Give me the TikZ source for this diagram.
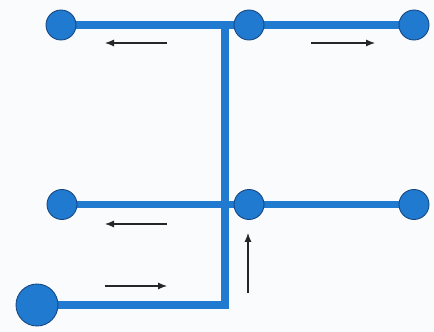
\documentclass[tikz,border=0pt]{standalone}
\usepackage{tikz}
\usetikzlibrary{arrows.meta}
\definecolor{pipeblue}{RGB}{32,122,208}
\definecolor{pipeedge}{RGB}{22,70,130}
\definecolor{paper}{RGB}{250,251,252}

\begin{document}
\begin{tikzpicture}[
    joint/.style={circle,fill=pipeblue,draw=pipeedge,line width=0.5pt,minimum size=0.6cm,inner sep=0pt},
    source/.style={joint,minimum size=0.84cm},
    pipe/.style={pipeblue,line width=4pt},
    flow/.style={-{Latex[length=1.8mm,width=1.4mm]},black!85,line width=0.6pt}
  ]
      \fill[paper] (0,0) rectangle (8.68,6.64);
      \useasboundingbox (0,0) rectangle (8.68,6.64);
      % junctions of the trunk
      \coordinate (ttop) at (4.5,6.14);
      \coordinate (tmid) at (4.5,2.55);
      \coordinate (tbot) at (4.5,0.54);
      % pipes
      \draw[pipe] (1.22,6.14) coordinate (tlend) -- (8.28,6.14) coordinate (trend);
      \draw[pipe] (1.24,2.55) coordinate (mlend) -- (8.28,2.55) coordinate (mrend);
      \draw[pipe,line join=miter] (0.74,0.54) coordinate (blend) -- (tbot) -- (ttop);
      % outlets
      \node[joint] (tl) at (tlend) {};
      \node[joint] (tm) at (4.98,6.14) {};
      \node[joint] (tr) at (trend) {};
      \node[joint] (ml) at (mlend) {};
      \node[joint] (mm) at (4.98,2.55) {};
      \node[joint] (mr) at (mrend) {};
      \node[source] (src) at (blend) {};
      % flow directions
      \coordinate (a1) at (3.34,5.78); \coordinate (a2) at (2.1,5.78);
      \coordinate (b1) at (6.22,5.78); \coordinate (b2) at (7.5,5.78);
      \coordinate (c1) at (3.34,2.16); \coordinate (c2) at (2.1,2.16);
      \coordinate (d1) at (2.1,0.92);  \coordinate (d2) at (3.34,0.92);
      \coordinate (e1) at (4.96,0.78); \coordinate (e2) at (4.96,1.98);
      \draw[flow] (a1) -- (a2);
      \draw[flow] (b1) -- (b2);
      \draw[flow] (c1) -- (c2);
      \draw[flow] (d1) -- (d2);
      \draw[flow] (e1) -- (e2);
    \end{tikzpicture}
\end{document}
